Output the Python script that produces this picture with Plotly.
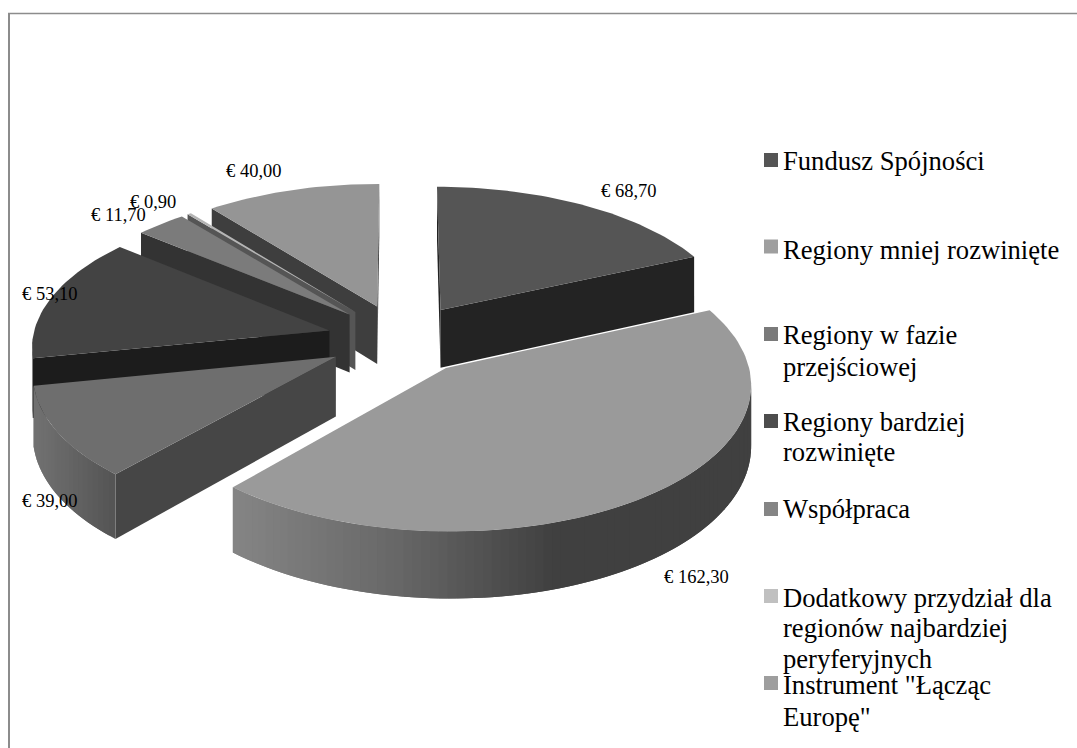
import numpy as np
import plotly.graph_objects as go

categories = ["Fundusz Spójności", "Regiony mniej rozwinięte", "Regiony w fazie<br>przejściowej",
              "Regiony bardziej<br>rozwinięte", "Współpraca",
              "Dodatkowy przydział dla<br>regionów najbardziej<br>peryferyjnych",
              "Instrument \"Łącząc<br>Europę\""]
values = [68.7, 162.3, 39.0, 53.1, 11.7, 0.9, 40.0]
value_labels = ["€ 68,70", "€ 162,30", "€ 39,00", "€ 53,10", "€ 11,70", "€ 0,90", "€ 40,00"]

top_colors = ["#555555", "#9a9a9a", "#6e6e6e", "#434343", "#7b7b7b", "#b5b5b5", "#959595"]
face_colors = ["#232323", "#404040", "#464646", "#1c1c1c", "#333333", "#555555", "#3e3e3e"]
legend_colors = ["#555555", "#9f9f9f", "#7a7a7a", "#4d4d4d", "#858585", "#c0c0c0", "#9e9e9e"]
# outer wall shading: screen-x stops and grey levels, per slice
wall_x = [[440, 700], [233, 400, 560, 752], [35, 118], [33, 130], [140, 190], [190, 195], [210, 380]]
wall_g = [[0x30, 0x30], [0x86, 0x68, 0x40, 0x40], [0x72, 0x55], [0x72, 0x72], [0x50, 0x50], [0x70, 0x70], [0x50, 0x50]]
paint_order = [0, 6, 5, 4, 3, 2, 1]

label_x = [629, 696, 50, 50, 118, 153, 254]
label_y = [191, 577, 501, 294, 215, 202, 171]
legend_square_y = [160, 246.5, 334, 421, 509, 596, 683]
legend_text_y = [[161], [250], [335, 367], [422, 452], [509], [598, 628, 659], [685, 717]]

CX, CY, A, B, P, EXPLODE, H = 401, 339, 297, 141, 0.10, 0.25, 59


def project(u, v, z=0.0):
    w = 1 + P * v
    return CX + A * u / w, CY - B * v / w + z * H / w


fig = go.Figure()


def poly(pts, color):
    xs = [p[0] for p in pts] + [pts[0][0]]
    ys = [p[1] for p in pts] + [pts[0][1]]
    fig.add_trace(go.Scatter(x=xs, y=ys, mode="lines", fill="toself", fillcolor=color,
                             line=dict(color=color, width=0), hoverinfo="skip", showlegend=False))


def facing(pts):
    # back-face culling on the projected quad (screen y points down)
    area = sum(pts[i][0] * pts[(i + 1) % 4][1] - pts[(i + 1) % 4][0] * pts[i][1] for i in range(4))
    return area < 0


edges = np.cumsum([0] + values) / sum(values) * 2 * np.pi
for i in paint_order:
    t0, t1 = edges[i], edges[i + 1]
    mid = (t0 + t1) / 2
    ou, ov = EXPLODE * np.sin(mid), EXPLODE * np.cos(mid)
    n = max(2, int(np.degrees(t1 - t0) / 1.5))
    ts = np.linspace(t0, t1, n + 1)
    us, vs = ou + np.sin(ts), ov + np.cos(ts)
    # radial faces
    e0 = (ou + np.sin(t0), ov + np.cos(t0))
    e1 = (ou + np.sin(t1), ov + np.cos(t1))
    q0 = [project(ou, ov), project(*e0), project(*e0, 1), project(ou, ov, 1)]
    q1 = [project(*e1), project(ou, ov), project(ou, ov, 1), project(*e1, 1)]
    for q in (q0, q1):
        if facing(q):
            poly(q, face_colors[i])
    # outer wall, each facet runs under the next one so no seam shows
    for k in range(n):
        j = min(k + 2, n)
        q = [project(us[k], vs[k]), project(us[j], vs[j]), project(us[j], vs[j], 1), project(us[k], vs[k], 1)]
        if facing(q):
            g = int(np.interp(q[0][0], wall_x[i], wall_g[i]))
            poly(q, f"rgb({g},{g},{g})")
    # top surface
    tx, ty = project(np.r_[ou, us], np.r_[ov, vs])
    poly(list(zip(tx, ty)), top_colors[i])

annotations = []
for txt, x, y in zip(value_labels, label_x, label_y):
    annotations.append(dict(x=x, y=y, text=txt, showarrow=False, xanchor="center", yanchor="middle",
                            font=dict(family="Liberation Serif", size=18.5, color="#000000")))
for txt, ys in zip(categories, legend_text_y):
    for line, y in zip(txt.split("<br>"), ys):
        annotations.append(dict(x=783, y=y, text=line, showarrow=False, xanchor="left", yanchor="middle",
                                xshift=-2, font=dict(family="Liberation Serif", size=26.6, color="#000000")))

shapes = [dict(type="line", x0=9, x1=9, y0=13, y1=748, line=dict(color="#8c8c8c", width=2)),
          dict(type="line", x0=8, x1=1077, y0=13.5, y1=13.5, line=dict(color="#8c8c8c", width=1.5))]
for c, y in zip(legend_colors, legend_square_y):
    shapes.append(dict(type="rect", x0=764, x1=778, y0=y - 7, y1=y + 7, fillcolor=c, line=dict(width=0)))

fig.update_layout(width=1077, height=748, autosize=False, margin=dict(l=0, r=0, t=0, b=0),
                  paper_bgcolor="white", plot_bgcolor="white", showlegend=False,
                  xaxis=dict(range=[0, 1077], visible=False, fixedrange=True),
                  yaxis=dict(range=[748, 0], visible=False, fixedrange=True),
                  annotations=annotations, shapes=shapes)
fig.write_html("out.html", config={"displayModeBar": False},
               post_script="document.body.style.margin='0';document.body.style.overflow='hidden';")
